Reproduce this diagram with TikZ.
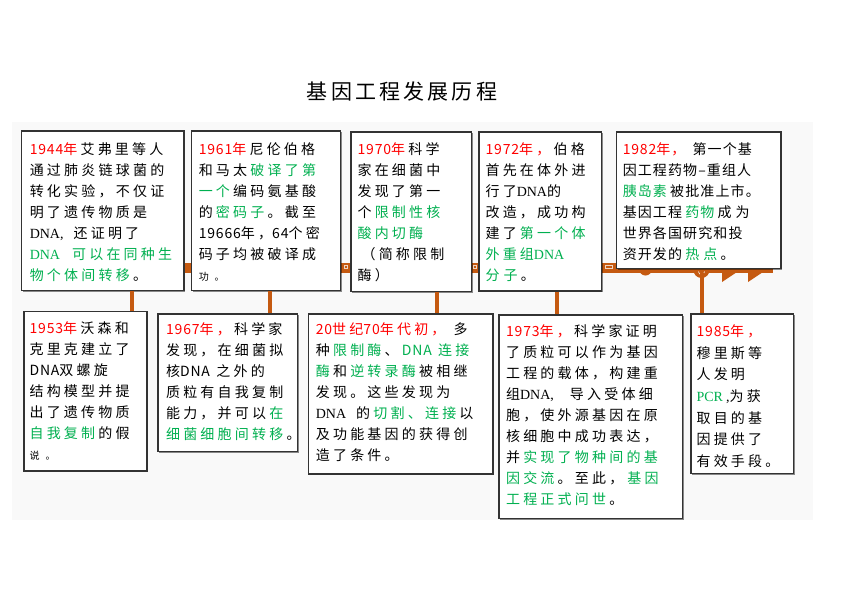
\documentclass[tikz,border=0pt]{standalone}
\usepackage{fontspec}
\setmainfont{Noto Sans CJK SC}
\newfontfamily\latserif{Liberation Serif}
\usetikzlibrary{shadows}
\definecolor{yearred}{HTML}{FF0000}
\definecolor{hlgreen}{HTML}{00B050}
\definecolor{barorange}{HTML}{C55A11}
\definecolor{boxline}{HTML}{333333}
\definecolor{bggray}{HTML}{F9F9F9}
\newlength\lsp
\setlength\lsp{3.2pt}
\newcommand\redt[1]{\textcolor{yearred}{#1}\kern\lsp}
\newcommand\grnt[1]{\textcolor{hlgreen}{#1}\kern\lsp}
\newcommand\ks{\kern\lsp}
\newcommand\dg[1]{{\addfontfeature{LetterSpace=6}#1}}
\newcommand\ser[1]{{\latserif #1}}
\newcommand\smalltx[1]{{\fontsize{10}{21}\selectfont #1}}
\tikzset{
  box/.style={draw=boxline, line width=1.3pt, fill=white, inner sep=0pt,
    drop shadow={shadow xshift=1.3pt, shadow yshift=-1.3pt, fill=black, opacity=0.45}},
  txt/.style={anchor=north west, inner sep=0pt, align=left,
    font=\fontsize{14}{21}\selectfont\addfontfeature{LetterSpace=23}},
  txtnarrow/.style={txt, font=\fontsize{14}{21}\selectfont\addfontfeature{LetterSpace=8}},
  conn/.style={draw=barorange, line width=4pt},
  barmark/.style={draw=white!75!barorange, line width=0.6pt},
  titlestyle/.style={inner sep=0pt, font=\fontsize{21}{25}\selectfont\addfontfeature{LetterSpace=15}},
}
\begin{document}
\begin{tikzpicture}[x=1pt,y=-1pt]
\useasboundingbox (0,0) rectangle (860,608);
\fill[bggray] (12,122) rectangle (813,520);
\node[titlestyle] (title) at (402,92) {基因工程发展历程};
% timeline bar
\node[fill=barorange, inner sep=0pt, minimum width=752pt, minimum height=10pt] (bar) at (397,268) {};
\fill[barorange] (645.5,269) circle (6.5pt);
\fill[barorange] (701.5,270) circle (8pt);
\fill[barorange] (722,272) -- (737,272) -- (722,282) -- cycle;
\fill[barorange] (748,272) -- (763,272) -- (748,282) -- cycle;
\draw[barmark] (344.5,265.5) rectangle (347.5,268.5);
\draw[barmark] (473.5,265.5) rectangle (476.5,268.5);
\draw[barmark] (605.5,265.5) rectangle (612.5,268.5);
\draw[white, line width=0.6pt] (698.5,271.5) .. controls (698.5,275.5) and (704.5,275.5) .. (704.5,271.5);
% connector x positions
\coordinate (c1) at (132,0);
\coordinate (c2) at (270,0);
\coordinate (c3) at (437,0);
\coordinate (c4) at (556.7,0);
\coordinate (c5) at (701.7,0);
% boxes
\node[box, minimum width=162.3pt, minimum height=159.7pt] (b1) at (102.85,210.85) {};
\node[box, minimum width=149pt, minimum height=159.7pt] (b2) at (266.2,210.85) {};
\node[box, minimum width=120.7pt, minimum height=159.7pt] (b3) at (411.35,211.85) {};
\node[box, minimum width=122.7pt, minimum height=159pt] (b4) at (540.35,211.5) {};
\node[box, minimum width=164.3pt, minimum height=136.7pt] (b5) at (698.85,200.35) {};
\node[box, minimum width=123pt, minimum height=159.3pt] (b6) at (85.5,391.35) {};
\node[box, minimum width=139.7pt, minimum height=137.7pt] (b7) at (227.85,382.85) {};
\node[box, minimum width=184.7pt, minimum height=160pt] (b8) at (400.65,394) {};
\node[box, minimum width=183.7pt, minimum height=203.3pt] (b9) at (590.85,416.65) {};
\node[box, minimum width=102.3pt, minimum height=159.3pt] (b10) at (742.15,393.65) {};
% connectors
\draw[conn] (b1.south -| c1) -- (b6.north -| c1);
\draw[conn] (b2.south -| c2) -- (b7.north -| c2);
\draw[conn] (b3.south -| c3) -- (b8.north -| c3);
\draw[conn] (b4.south -| c4) -- (b9.north -| c4);
\draw[conn] (bar.south -| c5) -- (b10.north -| c5);
% texts
\node[txt] (t1) at ([shift={(8.5,12)}]b1.north west) {%
\redt{\dg{1944}年}艾弗里等人\\
通过肺炎链球菌的\\
转化实验，不仅证\\
明了遗传物质是\\
\ser{DNA,}\hspace{10pt}还证明了\\
\grnt{\ser{DNA}\hspace{12pt}可以在同种生}\\
\grnt{物个体间转移}。};
\node[txt] (t2) at ([shift={(7.5,12)}]b2.north west) {%
\redt{\dg{1961}年}尼伦伯格\\
和马太\ks\grnt{破译了第}\\
\grnt{一个}编码氨基酸\\
的\ks\grnt{密码子}。截至\\
\dg{19666}年，\dg{64}个密\\
码子均被破译成\\
\smalltx{功\hspace{6pt}。}};
\node[txt] (t3) at ([shift={(7,11)}]b3.north west) {%
\redt{\dg{1970}年}科学\\
家在细菌中\\
发现了第一\\
个\ks\grnt{限制性核}\\
\grnt{酸内切酶}\\
\hspace{4pt}（简称限制\\
酶）};
\node[txt] (t4) at ([shift={(7,11)}]b4.north west) {%
\redt{\dg{1972}年，}伯格\\
首先在体外进\\
行了\ser{DNA}的\\
改造，成功构\\
建了\ks\grnt{第一个体}\\
\grnt{外重组\ser{DNA}}\\
\grnt{分\hspace{4pt}子}。};
\node[txtnarrow] (t5) at ([shift={(6.5,11)}]b5.north west) {%
\setlength\lsp{1.1pt}%
\redt{\dg{1982}年，}\hspace{6pt}第一个基\\
因工程药物–重组人\\
\grnt{胰岛素}被批准上市。\\
基因工程\ks\grnt{药物}成\hspace{4pt}为\\
世界各国研究和投\\
资开发的\ks\grnt{热\hspace{4pt}点}。};
\node[txt] (t6) at ([shift={(6,10)}]b6.north west) {%
\redt{\dg{1953}年}沃森和\\
克里克建立了\\
\dg{DNA}双螺旋\\
结构模型并提\\
出了遗传物质\\
\grnt{自我复制}的假\\
\smalltx{说\hspace{6pt}。}};
\node[txt] (t7) at ([shift={(8.5,9)}]b7.north west) {%
\redt{\dg{1967}年，}科学家\\
发现，在细菌拟\\
核\dg{DNA} 之外的\\
质粒有自我复制\\
能力，并可以\ks\grnt{在}\\
\grnt{细菌细胞间转移}。};
\node[txt] (t8) at ([shift={(8,9)}]b8.north west) {%
\redt{\dg{20}世纪\dg{70}年代初，}\hspace{5pt}多\\
种\ks\grnt{限制酶}、\ks\grnt{\dg{DNA} 连接}\\
\grnt{酶}和\ks\grnt{逆转录酶}被相继\\
发现。这些发现为\\
\ser{DNA}\hspace{10pt}的\ks\grnt{切割、连接}以\\
及功能基因的获得创\\
造了条件。};
\node[txt] (t9) at ([shift={(7.5,10)}]b9.north west) {%
\redt{\dg{1973}年，}科学家证明\\
了质粒可以作为基因\\
工程的载体，构建重\\
组\ser{DNA,}\hspace{16pt}导入受体细\\
胞，使外源基因在原\\
核细胞中成功表达，\\
并\ks\grnt{实现了物种间的基}\\
\grnt{因交流}。至此，\hspace{4pt}\grnt{基因}\\
\grnt{工程正式问世}。};
\node[txt, font=\fontsize{14}{21.7}\selectfont\addfontfeature{LetterSpace=23}] (t10) at ([shift={(6,11)}]b10.north west) {%
\redt{\dg{1985}年，}\\
穆里斯等\\
人发明\\
\grnt{\ser{PCR}}\ser{,}为获\\
取目的基\\
因提供了\\
有效手段。};
\end{tikzpicture}
\end{document}
